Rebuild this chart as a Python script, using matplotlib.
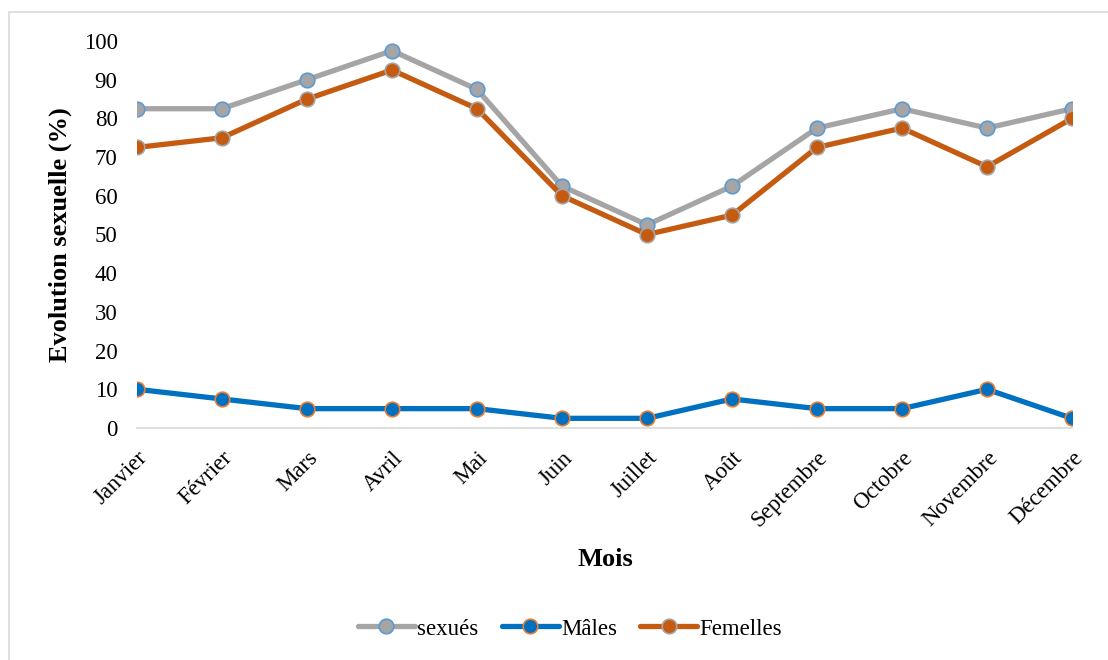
import matplotlib.pyplot as plt
from matplotlib.patches import Rectangle

mois = ['Janvier', 'Février', 'Mars', 'Avril', 'Mai', 'Juin', 'Juillet',
        'Août', 'Septembre', 'Octobre', 'Novembre', 'Décembre']
sexues = [82.5, 82.5, 90, 97.5, 87.5, 62.5, 52.5, 62.5, 77.5, 82.5, 77.5, 82.5]
males = [10, 7.5, 5, 5, 5, 2.5, 2.5, 7.5, 5, 5, 10, 2.5]
femelles = [72.5, 75, 85, 92.5, 82.5, 60, 50, 55, 72.5, 77.5, 67.5, 80]
yticks = [0, 10, 20, 30, 40, 50, 60, 70, 80, 90, 100]

plt.rcParams['font.family'] = ['Liberation Serif', 'DejaVu Serif']

fig = plt.figure(figsize=(11.08, 6.6), dpi=100)
ax = fig.add_axes([137 / 1108, 1 - 428 / 660, (1072 - 137) / 1108, (428 - 41) / 660])

# light grey chart-area border (only left/top visible in the crop)
fig.patches.append(Rectangle((9 / 1108, -0.1), 1.2, 1 - 12 / 660 + 0.1,
                             transform=fig.transFigure, fill=False,
                             edgecolor='#d9d9d9', linewidth=1.2, zorder=0))

x = list(range(len(mois)))
ax.plot(x, sexues, color='#a5a5a5', lw=3.8, marker='o', ms=10.5,
        mfc='#a5a5a5', mec='#5b9bd5', mew=1.2, label='sexués', solid_capstyle='round')
ax.plot(x, males, color='#0070c0', lw=3.8, marker='o', ms=10.5,
        mfc='#0070c0', mec='#ed7d31', mew=1.2, label='Mâles', solid_capstyle='round')
ax.plot(x, femelles, color='#c55a11', lw=3.8, marker='o', ms=10.5,
        mfc='#c55a11', mec='#a5a5a5', mew=1.2, label='Femelles', solid_capstyle='round')

ax.set_xlim(0, 11)
ax.set_ylim(0, 100)
ax.set_yticks(yticks)
ax.set_xticks(x)
ax.set_xticklabels(mois, rotation=45, ha='right', rotation_mode='anchor')
ax.tick_params(axis='both', length=0, labelsize=16.5)
ax.tick_params(axis='x', pad=14)
ax.tick_params(axis='y', pad=14)
for s in ['top', 'right', 'left']:
    ax.spines[s].set_visible(False)
ax.spines['bottom'].set_color('#d9d9d9')
ax.spines['bottom'].set_linewidth(1.2)
ax.spines['bottom'].set_zorder(0)

ax.set_ylabel('Evolution sexuelle (%)', fontsize=19, fontweight='bold', labelpad=8)
fig.text(605 / 1108, 1 - 560 / 660, 'Mois', fontsize=19, fontweight='bold',
         ha='center', va='center')

fig.legend(loc='center', bbox_to_anchor=(570 / 1108, 1 - 629 / 660), ncol=3,
           frameon=False, fontsize=16.5, handlelength=2.5, handletextpad=0.1,
           columnspacing=1.0)

fig.savefig('out.png', dpi=100)
